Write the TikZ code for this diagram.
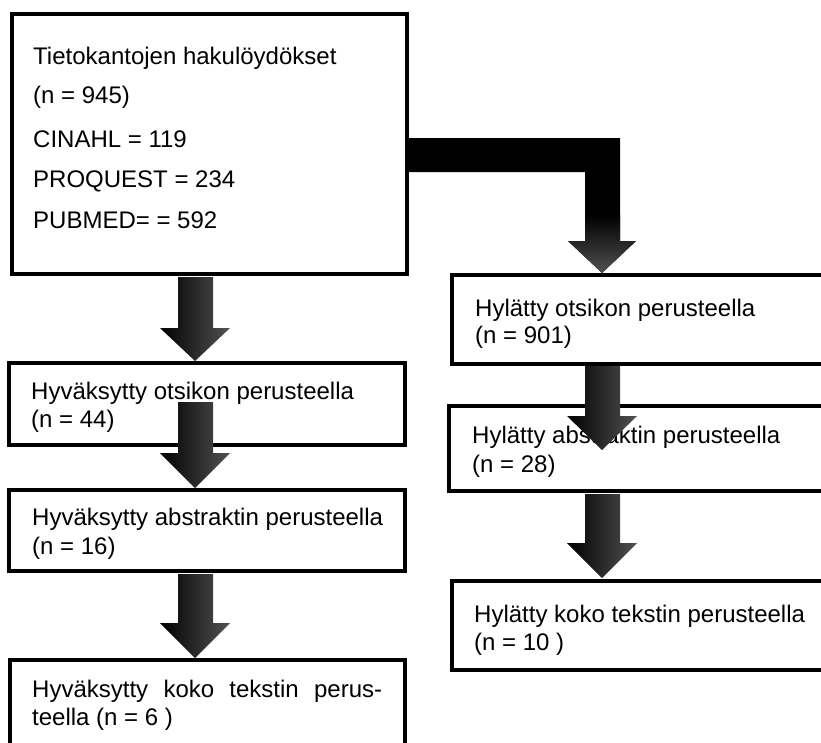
\documentclass[tikz,border=0pt]{standalone}
\usepackage{fontspec}
\setmainfont{Liberation Sans}
\begin{document}
\begin{tikzpicture}[x=1pt,y=-1pt,
  box/.style={draw=black, line width=4.5pt, fill=white, rectangle, inner sep=0pt},
  txt/.style={anchor=base west, inner sep=0pt, font=\fontsize{24}{28}\selectfont},
  fatv/.style={left color=black, right color=black!68},
  fatb/.style={top color=black, bottom color=black!68}]
\clip (0,0) rectangle (821,742);
\fill[white] (0,0) rectangle (821,742);
% boxes
\node[box, minimum width=395pt, minimum height=260pt] (top) at (209.5,144) {};
\node[box, minimum width=396pt, minimum height=82pt] (b2) at (207,404) {};
\node[box, minimum width=396pt, minimum height=81pt] (b3) at (207,530.5) {};
\node[box, minimum width=395pt, minimum height=110pt] (b4) at (207.5,715) {};
\node[box, minimum width=390pt, minimum height=89pt] (r1) at (647,319.5) {};
\node[box, minimum width=393pt, minimum height=85pt] (r2) at (645.5,448.5) {};
\node[box, minimum width=390pt, minimum height=89pt] (r3) at (647,625.5) {};
% texts
\node[txt] (t1) at (33,64) {Tietokantojen hakulöydökset};
\node[txt] (t2) at (33,103) {(n = 945)};
\node[txt] (t3) at (33,147) {CINAHL = 119};
\node[txt] (t4) at (33,187) {PROQUEST = 234};
\node[txt] (t5) at (33,228) {PUBMED= = 592};
\node[txt] (b2a) at (31,399) {Hyväksytty otsikon perusteella};
\node[txt] (b2b) at (31,427) {(n = 44)};
\node[txt] (b3a) at (32,525) {Hyväksytty abstraktin perusteella};
\node[txt] (b3b) at (32,554) {(n = 16)};
\node[txt] (b4a) at (32,697) {\makebox[350pt][s]{Hyväksytty koko tekstin perus-}};
\node[txt] (b4b) at (32,725) {teella (n = 6 )};
\node[txt] (r1a) at (475,316) {Hylätty otsikon perusteella};
\node[txt] (r1b) at (475,343) {(n = 901)};
\node[txt] (r2a) at (472,443) {Hylätty abstraktin perusteella};
\node[txt] (r2b) at (472,472) {(n = 28)};
\node[txt] (r3a) at (474,622) {Hylätty koko tekstin perusteella};
\node[txt] (r3b) at (474,650) {(n = 10 )};
% arrows
\shade[fatv] (178,277) -- (213,277) -- (213,328) -- (230,328) -- (195,361) -- (160,328) -- (178,328) -- cycle;
\shade[fatv] (178,402) -- (213,402) -- (213,453) -- (230,453) -- (195,488) -- (160,453) -- (178,453) -- cycle;
\shade[fatv] (178,574) -- (213,574) -- (213,623) -- (230,623) -- (195,658) -- (160,623) -- (178,623) -- cycle;
\shade[fatv] (585,366) -- (620,366) -- (620,416) -- (637,416) -- (602,450) -- (567,416) -- (585,416) -- cycle;
\shade[fatv] (585,494) -- (620,494) -- (620,543) -- (637,543) -- (602,578) -- (567,543) -- (585,543) -- cycle;
\fill[black] (409,138) -- (620,138) -- (620,241) -- (636,241) -- (602,273) -- (568,241) -- (585,241) -- (585,172) -- (409,172) -- cycle;
\begin{scope}
\clip (585,215) -- (620,215) -- (620,241) -- (636,241) -- (602,273) -- (568,241) -- (585,241) -- cycle;
\shade[fatb] (560,215) rectangle (640,274);
\end{scope}
\end{tikzpicture}
\end{document}
